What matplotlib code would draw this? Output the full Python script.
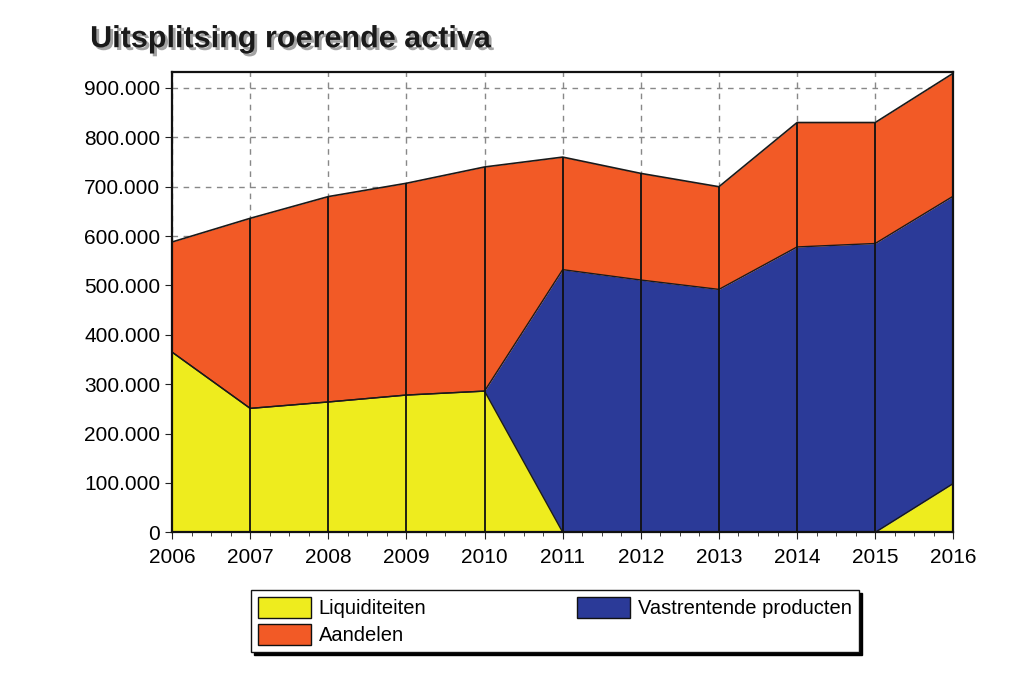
import matplotlib
matplotlib.use("Agg")
import matplotlib.pyplot as plt
import matplotlib.patheffects as pe
from matplotlib.ticker import MultipleLocator, FuncFormatter
import numpy as np

years = [2006, 2007, 2008, 2009, 2010, 2011, 2012, 2013, 2014, 2015, 2016]
liquiditeiten = [365000, 251000, 264000, 278000, 286000, 0, 0, 0, 0, 0, 99000]
vastrentende = [0, 0, 0, 0, 0, 532000, 511000, 492000, 578000, 585000, 582000]
totaal = [588000, 636000, 680000, 707000, 740000, 760000, 727000, 700000, 830000, 830000, 930000]
aandelen = [t - l - v for t, l, v in zip(totaal, liquiditeiten, vastrentende)]

c_yellow = "#EEEC1E"
c_blue = "#2B3A98"
c_orange = "#F25A26"

plt.rcParams['font.family'] = ['Liberation Sans', 'DejaVu Sans']
fig = plt.figure(figsize=(10.24, 6.94), dpi=100)
ax = fig.add_axes([0.168, 0.233, 0.763, 0.663])

x = np.array(years)
l = np.array(liquiditeiten)
v = np.array(vastrentende)
a = np.array(aandelen)
ax.fill_between(x, 0, l, color=c_yellow, lw=0, zorder=2, label="Liquiditeiten")
ax.fill_between(x, l, l + v, color=c_blue, lw=0, zorder=2, label="Vastrentende producten")
ax.fill_between(x, l + v, l + v + a, color=c_orange, lw=0, zorder=2, label="Aandelen")
ax.plot(x, l + v + a, color="#1a1a1a", lw=1.2, zorder=3)
ax.plot(x, l + v, color="#1a1a1a", lw=1.0, zorder=3)
ax.plot(x, l, color="#1a1a1a", lw=1.0, zorder=3)
ax.vlines(x, 0, l + v + a, color="#111111", lw=1.3, zorder=3)

ax.set_xlim(2006, 2016)
ax.set_ylim(0, 932000)
ax.xaxis.set_major_locator(MultipleLocator(1))
ax.xaxis.set_minor_locator(MultipleLocator(0.25))
ax.yaxis.set_major_locator(MultipleLocator(100000))
ax.yaxis.set_major_formatter(FuncFormatter(lambda val, p: f"{int(val):,}".replace(",", ".")))
ax.grid(True, which="major", ls=(0, (4, 4)), color="#888888", lw=1.0, zorder=1)
ax.set_axisbelow(True)
ax.tick_params(axis="both", which="major", labelsize=15, length=5, color="#222222", direction="out")
ax.tick_params(axis="x", which="minor", length=3, color="#222222")
ax.tick_params(axis="x", pad=6)
for s in ax.spines.values():
    s.set_color("#111111")
    s.set_linewidth(1.6)
    s.set_zorder(4)

handles, labels = ax.get_legend_handles_labels()
order = [0, 2, 1]
leg = fig.legend([handles[i] for i in order], [labels[i] for i in order],
                 loc="center", bbox_to_anchor=(0.542, 0.105), ncol=2,
                 fontsize=14.5, frameon=True, fancybox=False, shadow={'color': 'black', 'alpha': 1},
                 edgecolor="#111111", handlelength=2.6, handleheight=1.2,
                 columnspacing=7.5, labelspacing=0.3, borderpad=0.35, handletextpad=0.4)
for h in leg.legend_handles:
    h.set_edgecolor("#111111")
    h.set_linewidth(1.0)

fig.text(0.088, 0.932, "Uitsplitsing roerende activa", fontsize=22, fontweight="bold",
         color="#1a1a1a",
         path_effects=[pe.withSimplePatchShadow(offset=(2, -2), shadow_rgbFace="#999999", alpha=0.9)])

fig.savefig("out.png", dpi=100)
